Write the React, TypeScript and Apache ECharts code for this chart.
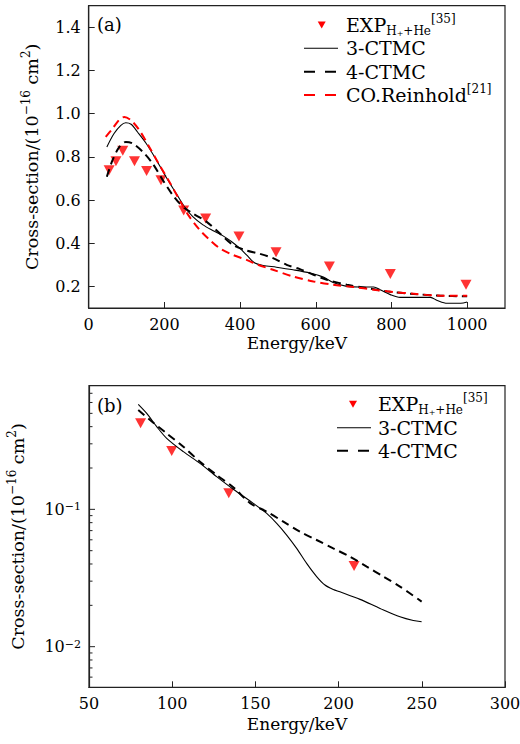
import React, { useEffect, useRef } from 'react';
import * as echarts from 'echarts';

const FONT = '"DejaVu Serif", serif';

// ---------- Panel (a) data ----------
const expAEnergy = [54, 72, 90, 121, 153, 191, 251, 309, 397, 495, 636, 797, 997];
const expAValue = [0.738, 0.78, 0.828, 0.78, 0.735, 0.692, 0.551, 0.515, 0.431, 0.358, 0.292, 0.258, 0.208];

const ctmc3AEnergy = [48, 67, 85, 98, 112, 129, 152, 178, 204, 231, 253, 275, 302, 329, 355, 377, 399, 417, 439, 461, 496, 540, 585, 620, 646, 682, 717, 753, 770, 797, 823, 859, 903, 921, 947, 983, 1000];
const ctmc3AValue = [0.846, 0.908, 0.946, 0.958, 0.951, 0.915, 0.862, 0.788, 0.708, 0.631, 0.569, 0.523, 0.485, 0.458, 0.434, 0.408, 0.377, 0.346, 0.308, 0.297, 0.289, 0.277, 0.262, 0.243, 0.218, 0.2, 0.197, 0.197, 0.185, 0.162, 0.149, 0.149, 0.149, 0.135, 0.122, 0.122, 0.128];

const ctmc4AEnergy = [48, 63, 81, 98, 116, 143, 169, 196, 222, 249, 275, 311, 346, 381, 412, 452, 487, 523, 558, 594, 629, 682, 735, 788, 859, 930, 1000];
const ctmc4AValue = [0.708, 0.785, 0.846, 0.869, 0.862, 0.823, 0.769, 0.692, 0.623, 0.569, 0.538, 0.5, 0.446, 0.392, 0.369, 0.351, 0.331, 0.3, 0.28, 0.254, 0.231, 0.208, 0.192, 0.177, 0.165, 0.157, 0.154];

const reinholdEnergy = [45, 63, 81, 94, 112, 134, 160, 187, 213, 240, 266, 293, 320, 346, 381, 417, 443, 487, 540, 594, 646, 700, 753, 806, 859, 930, 1000];
const reinholdValue = [0.892, 0.931, 0.972, 0.985, 0.969, 0.923, 0.846, 0.762, 0.685, 0.6, 0.523, 0.462, 0.415, 0.377, 0.346, 0.323, 0.303, 0.277, 0.246, 0.223, 0.208, 0.197, 0.185, 0.174, 0.166, 0.157, 0.157];

// ---------- Panel (b) data ----------
const expBEnergy = [81, 99.7, 134, 209.3];
const expBValue = [0.423, 0.266, 0.131, 0.0387];

const ctmc3BEnergy = [79.6, 84.7, 90.7, 96.7, 106.7, 116.7, 126.7, 136.7, 146.8, 156.8, 162.8, 168.8, 174.8, 180.8, 186.8, 191.8, 196.8, 200.8, 212.9, 224.9, 236.9, 244.9, 249.9];
const ctmc3BValue = [0.582, 0.5, 0.4, 0.329, 0.263, 0.216, 0.173, 0.14, 0.115, 0.0935, 0.079, 0.065, 0.052, 0.0404, 0.0324, 0.0281, 0.0261, 0.0251, 0.0221, 0.019, 0.0165, 0.0155, 0.0152];

const ctmc4BEnergy = [79.6, 86.7, 96.7, 106.7, 116.7, 126.7, 136.7, 146.8, 156.8, 166.8, 176.8, 186.8, 196.8, 206.8, 216.9, 226.9, 236.9, 249.9];
const ctmc4BValue = [0.528, 0.447, 0.357, 0.286, 0.222, 0.178, 0.145, 0.111, 0.0962, 0.0813, 0.0687, 0.0598, 0.052, 0.0452, 0.0383, 0.0324, 0.0274, 0.0213];

// log axis tick positions (panel b)
const logMajorTicks = [0.01, 0.1];
const logMinorTicks = [0.006, 0.007, 0.008, 0.009, 0.02, 0.03, 0.04, 0.05, 0.06, 0.07, 0.08, 0.09, 0.2, 0.3, 0.4, 0.5, 0.6, 0.7];

const zip = (xs: number[], ys: number[]) => xs.map((x, i) => [x, ys[i]]);

const FRAME = '#222';

const textRich = {
  sub: { fontFamily: FONT, fontSize: 12, lineHeight: 14, verticalAlign: 'bottom', color: '#000' },
  subsup: { fontFamily: FONT, fontSize: 8, lineHeight: 20, verticalAlign: 'bottom', color: '#000' },
  sup: { fontFamily: FONT, fontSize: 12, lineHeight: 14, verticalAlign: 'top', color: '#000' },
};

const legendText = (x: number, y: number, text: string) => ({
  type: 'text',
  x,
  y,
  style: {
    text,
    fontFamily: FONT,
    fontSize: 19,
    lineHeight: 24,
    fill: '#000',
    verticalAlign: 'middle',
    align: 'left',
    rich: textRich,
  },
});

const legendLine = (x1: number, x2: number, y: number, color: string, width: number, dash?: number[]) => ({
  type: 'line',
  shape: { x1, y1: y, x2, y2: y },
  style: { stroke: color, lineWidth: width, lineDash: dash || null },
});

const legendTri = (cx: number, cy: number) => ({
  type: 'polygon',
  shape: { points: [[cx - 4, cy - 3.5], [cx + 4, cy - 3.5], [cx, cy + 3.5]] },
  style: { fill: '#ff0000' },
});

const EXP_LABEL = 'EXP{sub|H}{subsup|+}{sub|+He}{sup|[35]}';

export default function App() {
  const ref = useRef<HTMLDivElement>(null);
  useEffect(() => {
    if (!ref.current) return;
    const chart = echarts.init(ref.current, undefined, { renderer: 'svg' });

    const axisNameStyle = {
      fontFamily: FONT,
      fontSize: 17.5,
      color: '#000',
      lineHeight: 24,
      rich: {
        sup: { fontFamily: FONT, fontSize: 12, lineHeight: 14, verticalAlign: 'top', color: '#000' },
      },
    };
    const xNameStyle = { fontFamily: FONT, fontSize: 17, color: '#000' };
    const labelStyle = { fontFamily: FONT, fontSize: 16, color: '#000' };

    const option: any = {
      animation: false,
      backgroundColor: '#fff',
      grid: [
        { left: 88.7, top: 5.7, width: 416.3, height: 302.3, show: true, borderColor: FRAME, borderWidth: 1.2, backgroundColor: 'transparent', outerBoundsMode: 'none', containLabel: false },
        { left: 89, top: 385.7, width: 416, height: 301.6, show: true, borderColor: FRAME, borderWidth: 1.2, backgroundColor: 'transparent', outerBoundsMode: 'none', containLabel: false },
      ],
      xAxis: [
        {
          type: 'value', gridIndex: 0, min: 0, max: 1100, interval: 200,
          name: 'Energy/keV', nameLocation: 'middle', nameGap: 26, nameTextStyle: xNameStyle,
          axisLine: { show: true, lineStyle: { color: FRAME, width: 1.2 } },
          axisTick: { show: true, inside: true, length: 6, lineStyle: { color: FRAME } },
          axisLabel: { ...labelStyle, margin: 8, showMaxLabel: false, formatter: (v: number) => String(Math.round(v)) },
          splitLine: { show: false },
        },
        {
          type: 'value', gridIndex: 1, min: 50, max: 300, interval: 50,
          name: 'Energy/keV', nameLocation: 'middle', nameGap: 28, nameTextStyle: xNameStyle,
          axisLine: { show: true, lineStyle: { color: FRAME, width: 1.2 } },
          axisTick: { show: true, inside: true, length: 6, lineStyle: { color: FRAME } },
          axisLabel: { ...labelStyle, margin: 8, formatter: (v: number) => String(Math.round(v)) },
          splitLine: { show: false },
        },
      ],
      yAxis: [
        {
          type: 'value', gridIndex: 0, min: 0.1, max: 1.5, splitNumber: 7,
          name: 'Cross-section/(10{sup|−16} cm{sup|2})', nameLocation: 'middle', nameGap: 44, nameTextStyle: axisNameStyle,
          axisLine: { show: true, lineStyle: { color: FRAME, width: 1.2 } },
          axisTick: { show: true, inside: true, length: 6, lineStyle: { color: FRAME } },
          axisLabel: { ...labelStyle, margin: 8, showMinLabel: false, showMaxLabel: false, formatter: (v: number) => v.toFixed(1) },
          splitLine: { show: false },
        },
        {
          type: 'log', logBase: 10, gridIndex: 1, min: 0.00506, max: 0.795,
          name: 'Cross-section/(10{sup|−16} cm{sup|2})', nameLocation: 'middle', nameGap: 59, nameTextStyle: axisNameStyle,
          axisLine: { show: true, lineStyle: { color: FRAME, width: 1.2 } },
          axisTick: { show: false },
          axisLabel: {
            ...labelStyle, margin: 8, showMinLabel: false, showMaxLabel: false,
            formatter: (v: number) => '10{sup|−' + Math.abs(Math.round(Math.log10(v))) + '}',
            rich: { sup: { fontFamily: FONT, fontSize: 11, lineHeight: 12, verticalAlign: 'top', color: '#000' } },
          },
          splitLine: { show: false },
        },
      ],
      series: [
        {
          name: '3-CTMC (a)', type: 'line', xAxisIndex: 0, yAxisIndex: 0, data: zip(ctmc3AEnergy, ctmc3AValue),
          symbol: 'none', smooth: 0.3, lineStyle: { color: '#000', width: 1.1 },
        },
        {
          name: '4-CTMC (a)', type: 'line', xAxisIndex: 0, yAxisIndex: 0, data: zip(ctmc4AEnergy, ctmc4AValue),
          symbol: 'none', smooth: 0.3, lineStyle: { color: '#000', width: 2, type: [8, 5] },
        },
        {
          name: 'CO.Reinhold (a)', type: 'line', xAxisIndex: 0, yAxisIndex: 0, data: zip(reinholdEnergy, reinholdValue),
          symbol: 'none', smooth: 0.3, lineStyle: { color: '#ff0000', width: 2, type: [8, 5] },
        },
        {
          name: 'EXP (a)', type: 'scatter', xAxisIndex: 0, yAxisIndex: 0, data: zip(expAEnergy, expAValue),
          symbol: 'triangle', symbolRotate: 180, symbolSize: [11, 10], itemStyle: { color: '#ff0000' },
        },
        {
          name: '3-CTMC (b)', type: 'line', xAxisIndex: 1, yAxisIndex: 1, data: zip(ctmc3BEnergy, ctmc3BValue),
          symbol: 'none', smooth: 0.3, lineStyle: { color: '#000', width: 1.1 },
        },
        {
          name: '4-CTMC (b)', type: 'line', xAxisIndex: 1, yAxisIndex: 1, data: zip(ctmc4BEnergy, ctmc4BValue),
          symbol: 'none', smooth: 0.3, lineStyle: { color: '#000', width: 2, type: [8, 5] },
        },
        {
          name: 'EXP (b)', type: 'scatter', xAxisIndex: 1, yAxisIndex: 1, data: zip(expBEnergy, expBValue),
          symbol: 'triangle', symbolRotate: 180, symbolSize: [11, 10], itemStyle: { color: '#ff0000' },
        },
        {
          name: 'log ticks', type: 'custom', xAxisIndex: 1, yAxisIndex: 1, silent: true, clip: false,
          data: [...logMajorTicks.map((v) => [50, v, 1]), ...logMinorTicks.map((v) => [50, v, 0])],
          renderItem: (params: any, api: any) => {
            const p = api.coord([50, api.value(1)]);
            const len = api.value(2) ? 6 : 3.5;
            return {
              type: 'line',
              shape: { x1: p[0], y1: p[1], x2: p[0] + len, y2: p[1] },
              style: { stroke: FRAME, lineWidth: 1 },
            };
          },
        },
      ],
      graphic: [
        { type: 'text', x: 97, y: 24, style: { text: '(a)', fontFamily: FONT, fontSize: 18, fill: '#000', verticalAlign: 'middle' } },
        { type: 'text', x: 97, y: 405, style: { text: '(b)', fontFamily: FONT, fontSize: 18, fill: '#000', verticalAlign: 'middle' } },
        // legend (a)
        legendTri(321.7, 25),
        legendText(346, 25, EXP_LABEL),
        legendLine(304, 338, 48.3, '#000', 1.1),
        legendText(346, 48.3, '3-CTMC'),
        legendLine(304, 338, 71.7, '#000', 2, [11, 10]),
        legendText(346, 71.7, '4-CTMC'),
        legendLine(304, 338, 95, '#ff0000', 2, [11, 10]),
        legendText(346, 95, 'CO.Reinhold{sup|[21]}'),
        // legend (b)
        legendTri(353, 404.3),
        legendText(378, 404.3, EXP_LABEL),
        legendLine(337, 371, 427.7, '#000', 1.1),
        legendText(378, 427.7, '3-CTMC'),
        legendLine(337, 371, 450.7, '#000', 2, [11, 10]),
        legendText(378, 450.7, '4-CTMC'),
      ],
    };

    chart.setOption(option);
    return () => chart.dispose();
  }, []);

  return (
    <div
      ref={ref}
      style={{ position: 'absolute', left: 0, top: 0, width: 520, height: 744, background: '#fff' }}
    />
  );
}
